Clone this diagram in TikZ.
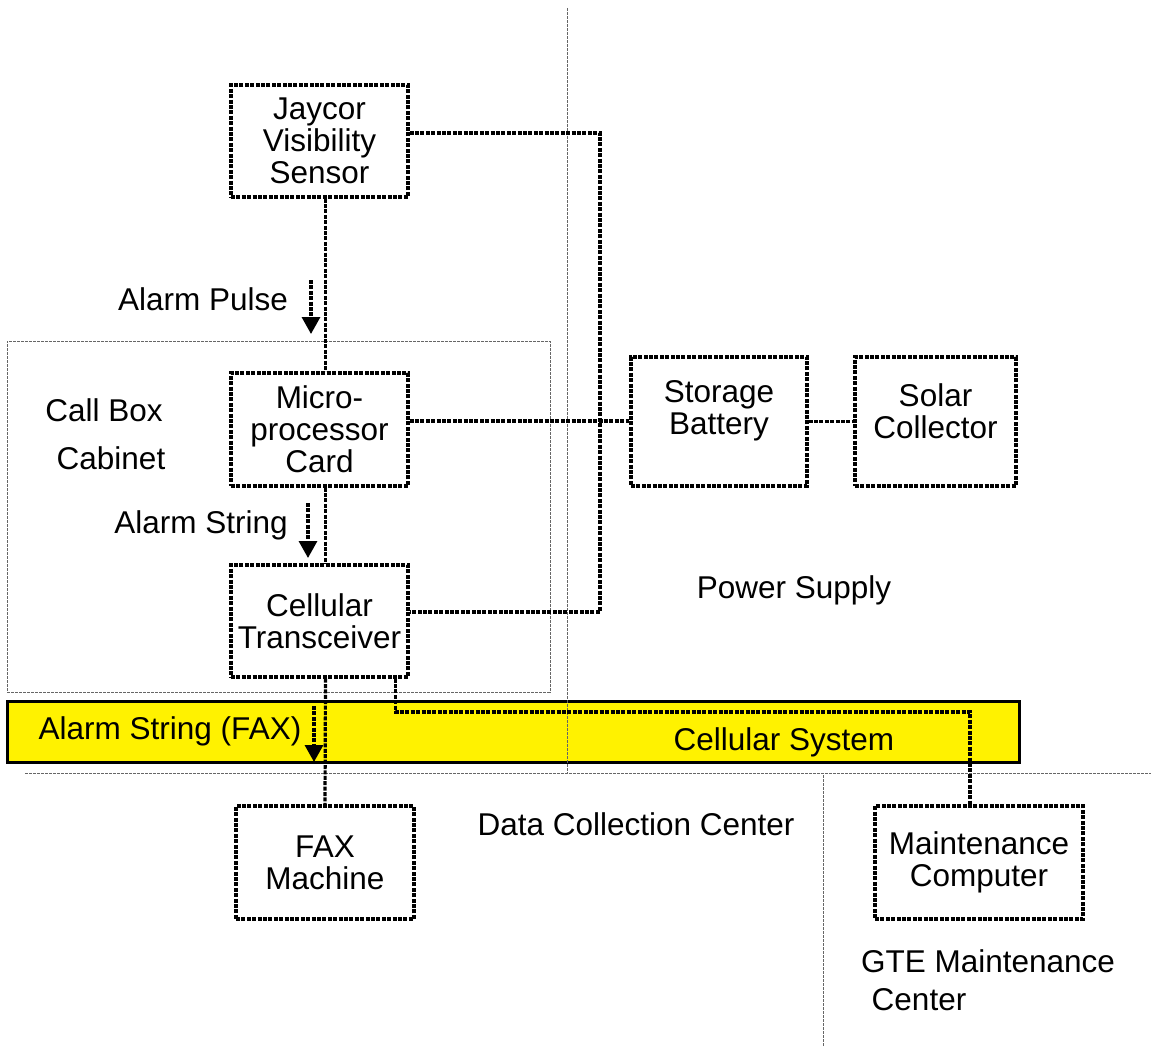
\documentclass[tikz,border=0pt]{standalone}
\usepackage{fontspec}
\setmainfont{Liberation Sans}
\usetikzlibrary{arrows.meta,calc}
\begin{document}
\begin{tikzpicture}[x=1pt,y=-1pt,
  lbl/.style={font=\fontsize{31.5}{32}\selectfont, inner sep=0pt, anchor=base},
  blk/.style={draw, line width=3.2pt, dash pattern=on 4pt off 1.4pt, align=center,
              inner sep=0pt, font=\fontsize{31.5}{32}\selectfont},
  conn/.style={line width=3.2pt, dash pattern=on 4pt off 1.4pt},
  flow/.style={conn, -{Triangle[width=18pt,length=17pt]}},
  guide/.style={draw=black!60, line width=1pt, dash pattern=on 3pt off 1pt},
]
\useasboundingbox (0,0) rectangle (1151,1046);

% cellular system band
\node[fill=yellow, draw=black, line width=3pt, minimum width=1012pt,
      minimum height=61pt, inner sep=0pt] (csys) at (513,731.5) {};

% call box cabinet outline
\node[guide, minimum width=543pt, minimum height=351pt, inner sep=0pt] (cab) at (278.5,516.5) {};

% area boundaries
\coordinate (vtop) at (567,8);
\coordinate (vbot) at (567,773);
\coordinate (hl) at (25,773);
\coordinate (hr) at (1151,773);
\coordinate (gtop) at (823,775);
\coordinate (gbot) at (823,1046);
\draw[guide] (vtop) -- (vbot);
\draw[guide] (hl) -- (hr);
\draw[guide] (gtop) -- (gbot);

% blocks
\node[blk, minimum width=177pt, minimum height=112pt] (jay) at (319.5,141) {Jaycor\\Visibility\\Sensor};
\node[blk, minimum width=177pt, minimum height=113pt] (mic) at (319.5,429.5) {Micro-\\processor\\Card};
\node[blk, minimum width=177pt, minimum height=112pt] (cel) at (319.5,621) {Cellular\\Transceiver};
\node[blk, minimum width=176pt, minimum height=129pt] (sto) at (719,421.5) {};
\node[blk, minimum width=161pt, minimum height=129pt] (sol) at (935.5,421.5) {};
\node[blk, minimum width=178pt, minimum height=113pt] (fax) at (325,862.5) {FAX\\Machine};
\node[blk, minimum width=208pt, minimum height=113pt] (mnt) at (979,862.5) {Maintenance\\Computer};
\node[lbl, anchor=center, align=center] (stot) at (719,411) {Storage\\Battery};
\node[lbl, anchor=center, align=center] (solt) at (935.5,411) {Solar\\Collector};

% signal and power connections
\coordinate (jayS) at ([xshift=6pt]jay.south);
\coordinate (micN) at ([xshift=6pt]mic.north);
\coordinate (micS) at ([xshift=6pt]mic.south);
\coordinate (celN) at ([xshift=6pt]cel.south |- cel.north);
\coordinate (celS) at ([xshift=6pt]cel.south);
\coordinate (faxN) at (fax.north);
\coordinate (jayE) at ([yshift=8pt]jay.east);
\coordinate (micE) at ([yshift=8.5pt]mic.east);
\coordinate (celE) at ([yshift=9pt]cel.east);
\coordinate (bus) at (600,0);
\coordinate (celR) at ([xshift=76pt]cel.south);
\coordinate (run) at (0,712);
\coordinate (mntN) at ([xshift=-9pt]mnt.north);

\draw[conn] (jayS) -- (micN);
\draw[conn] (micS) -- (celN);
\draw[conn] (celS) -- (faxN);
\draw[conn] (jayE) -| (bus |- celE) -- (celE);
\draw[conn] (micE) -- (sto.west |- micE);
\draw[conn] (sto.east) -- (sol.west);
\draw[conn] (celR) -- (celR |- run) -| (mntN);

% data flow arrows
\coordinate (p1) at (311,280);
\coordinate (p2) at (311,334);
\coordinate (s1) at (308,503);
\coordinate (s2) at (308,558);
\coordinate (f1) at (314,706);
\coordinate (f2) at (314,762);
\draw[flow] (p1) -- (p2);
\draw[flow] (s1) -- (s2);
\draw[flow] (f1) -- (f2);

% labels
\node[lbl] (tpulse) at (203,310) {Alarm Pulse};
\node[lbl] (tcb1) at (104,421.5) {Call Box};
\node[lbl] (tcb2) at (111,469.5) {Cabinet};
\node[lbl] (tstr) at (201,533) {Alarm String};
\node[lbl] (tfax) at (170,739) {Alarm String (FAX)};
\node[lbl] (tcs) at (784,750) {Cellular System};
\node[lbl] (tps) at (794,598) {Power Supply};
\node[lbl] (tdcc) at (636,835) {Data Collection Center};
\node[lbl] (tgte1) at (988,972) {GTE Maintenance};
\node[lbl] (tgte2) at (919,1010) {Center};
\end{tikzpicture}
\end{document}
